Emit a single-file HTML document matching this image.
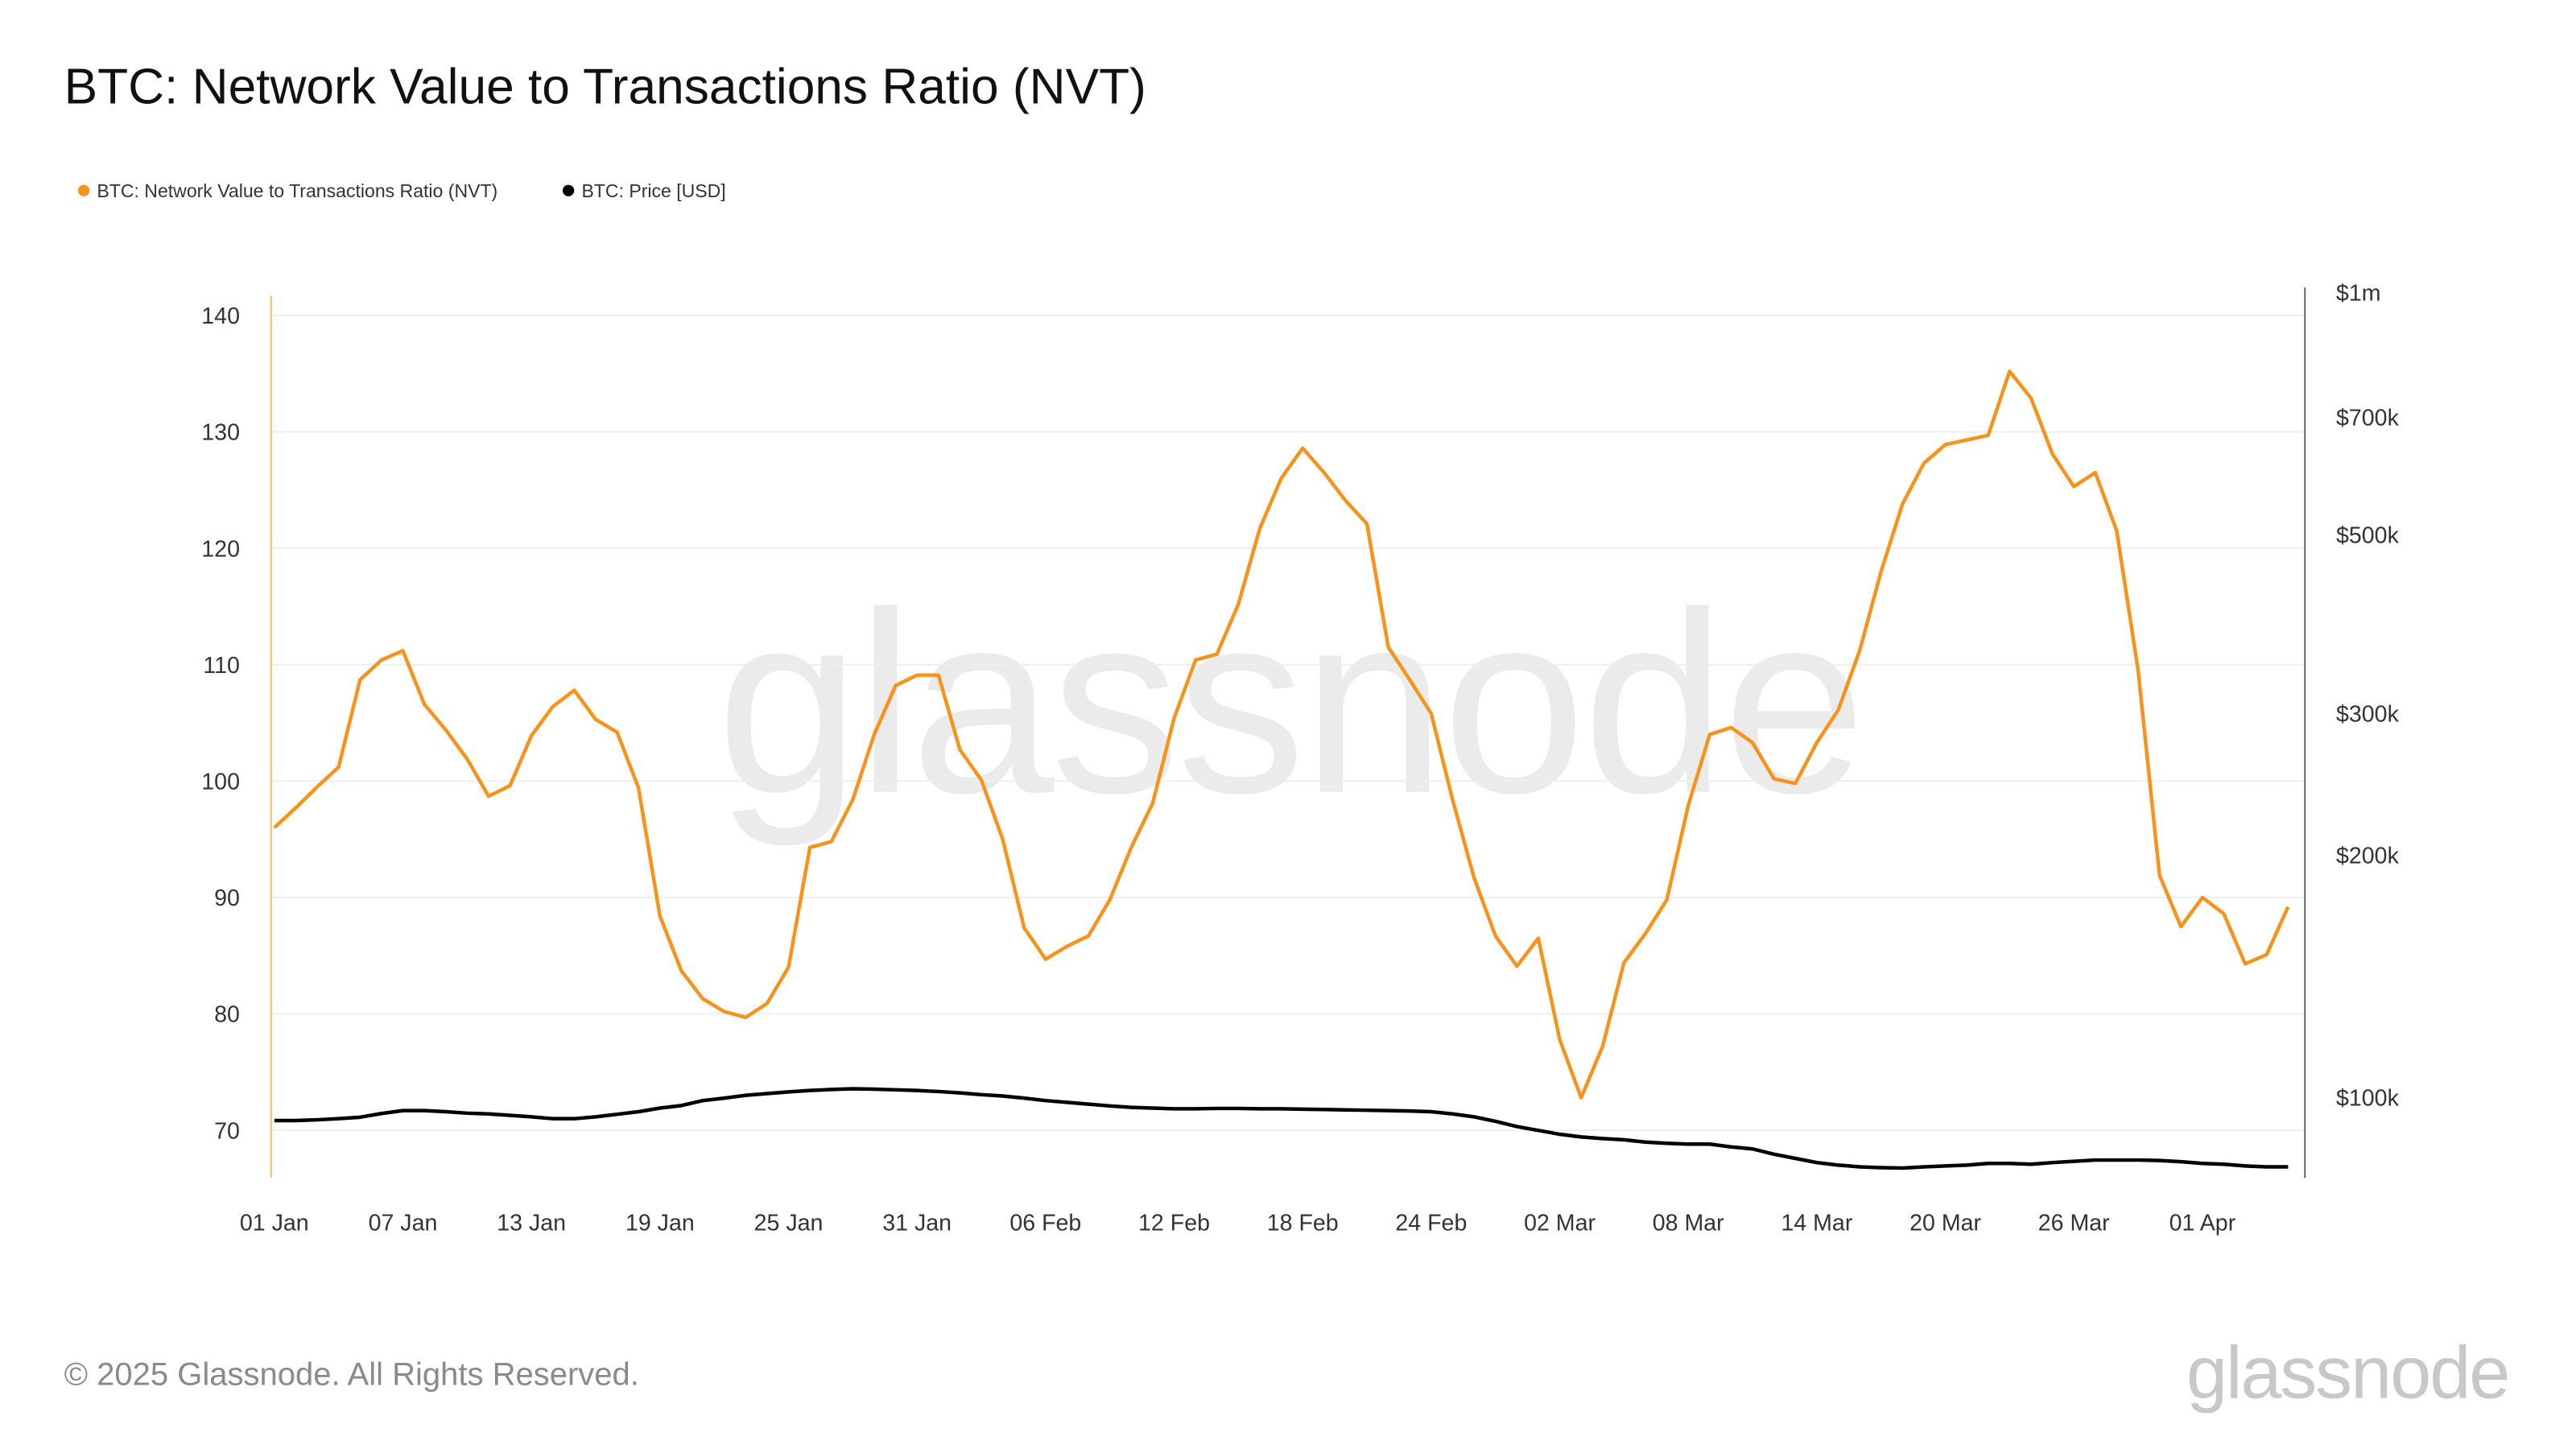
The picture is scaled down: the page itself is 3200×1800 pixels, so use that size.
<!DOCTYPE html>
<html><head><meta charset="utf-8"><style>
html,body{margin:0;padding:0;background:#fff;}
svg{display:block;font-family:"Liberation Sans",sans-serif;}
</style></head><body>
<svg id="chart" width="3200" height="1800" viewBox="0 0 1568 882" preserveAspectRatio="none" xmlns="http://www.w3.org/2000/svg">
<rect width="1568" height="882" fill="#fff"/>
<text x="39" y="63" font-size="30.5" fill="#111">BTC: Network Value to Transactions Ratio (NVT)</text>
<g>
<circle cx="51" cy="116" r="3.5" fill="#f7931a"/>
<text x="59" y="120" font-size="11.3" fill="#333">BTC: Network Value to Transactions Ratio (NVT)</text>
<circle cx="346" cy="116" r="3.5" fill="#000"/>
<text x="354" y="120" font-size="11.3" fill="#333">BTC: Price [USD]</text>
</g>
<text x="785" y="482" font-size="157" fill="#ebebeb" text-anchor="middle" letter-spacing="-2">glassnode</text>
<g id="grid"></g>
<g id="axes"></g>
<g id="series"></g>
<text x="39" y="843" font-size="19.6" fill="#8a8a8a">© 2025 Glassnode. All Rights Reserved.</text>
<text x="1527" y="851" font-size="45" fill="#c8c8c8" text-anchor="end" letter-spacing="-1">glassnode</text>
</svg>
<script>
const nvtValues=[96,97.7,99.5,101.2,108.7,110.4,111.2,106.6,104.4,101.9,98.7,99.6,103.9,106.4,107.8,105.3,104.2,99.4,88.4,83.7,81.3,80.2,79.7,80.9,84.0,94.3,94.8,98.4,104.0,108.2,109.1,109.1,102.7,100.1,95.0,87.4,84.7,85.8,86.7,89.8,94.3,98.1,105.4,110.4,110.9,115.2,121.7,126.0,128.6,126.5,124.1,122.1,111.5,108.7,105.8,98.4,91.7,86.7,84.1,86.5,77.8,72.8,77.2,84.4,86.9,89.8,97.9,104.0,104.6,103.3,100.2,99.8,103.3,106.1,111.2,118.0,123.8,127.3,128.9,129.3,129.7,135.2,132.9,128.1,125.3,126.5,121.5,109.5,91.9,87.5,90.0,88.6,84.3,85.1,89.2];
const priceK=[93.6,93.6,93.8,94.1,94.5,95.5,96.3,96.3,96.0,95.6,95.4,95.0,94.6,94.1,94.1,94.6,95.3,96.0,97.0,97.7,99.1,99.8,100.6,101.1,101.6,102.0,102.3,102.5,102.4,102.2,102.0,101.7,101.3,100.8,100.4,99.8,99.1,98.6,98.1,97.6,97.2,97.0,96.8,96.8,96.9,96.9,96.8,96.8,96.7,96.6,96.5,96.4,96.3,96.2,96.0,95.4,94.6,93.4,92.0,91.0,90.0,89.3,88.9,88.6,88.0,87.7,87.5,87.5,86.8,86.3,85.0,84.0,83.0,82.4,82.0,81.8,81.7,82.0,82.2,82.4,82.8,82.8,82.6,83.0,83.3,83.6,83.6,83.6,83.5,83.2,82.8,82.6,82.2,82.0,82.0];
const leftTicks=[70,80,90,100,110,120,130,140];
const rightTicks=[100,200,300,500,700,1000];
const rightTickLabels=["$100k","$200k","$300k","$500k","$700k","$1m"];
const xTickDays=[0,6,12,18,24,30,36,42,48,54,60,66,72,78,84,90];
const xTickLabels=["01 Jan","07 Jan","13 Jan","19 Jan","25 Jan","31 Jan","06 Feb","12 Feb","18 Feb","24 Feb","02 Mar","08 Mar","14 Mar","20 Mar","26 Mar","01 Apr"];

const NS="http://www.w3.org/2000/svg";
const X0=165,X1=1403,YT=180,YB=717;
const xS=d=>167+d*13.04;
const yL=v=>192+(140-v)*7.086;
const yR=k=>668-Math.log10(k/100)*490;
function mk(tag,attrs,parent){const e=document.createElementNS(NS,tag);for(const k in attrs)e.setAttribute(k,attrs[k]);parent.appendChild(e);return e;}
const grid=document.getElementById('grid'),axes=document.getElementById('axes'),series=document.getElementById('series');
leftTicks.forEach(v=>{
  const l=mk('line',{x1:X0,x2:X1,y1:yL(v),y2:yL(v),stroke:'#efefef','stroke-width':1},grid);
  
  
  const t=mk('text',{x:146,y:yL(v)+5,'font-size':14,fill:'#333','text-anchor':'end'},axes);
  t.textContent=v;
  
  
});
rightTicks.forEach((k,i)=>{
  const t=mk('text',{x:1422,y:yR(k)+5,'font-size':14,fill:'#333'},axes);
  t.textContent=rightTickLabels[i];
  
  
});
xTickDays.forEach((d,i)=>{
  const t=mk('text',{x:xS(d),y:749,'font-size':14,fill:'#333','text-anchor':'middle'},axes);
  t.textContent=xTickLabels[i];
  
  
});
const la=mk('line',{x1:X0,x2:X0,y1:YT,y2:YB,stroke:'#f8c58a','stroke-width':1.2},axes);


const ra=mk('line',{x1:X1,x2:X1,y1:175,y2:YB,stroke:'#666','stroke-width':1},axes);


const pp=mk('polyline',{points:priceK.map((k,i)=>xS(i)+','+yR(k)).join(' '),fill:'none',stroke:'#000','stroke-width':2.2,'stroke-linejoin':'round'},series);


const np=mk('polyline',{points:nvtValues.map((v,i)=>xS(i)+','+yL(v)).join(' '),fill:'none',stroke:'#f7931a','stroke-width':2.2,'stroke-linejoin':'round'},series);


</script>
</body></html>
